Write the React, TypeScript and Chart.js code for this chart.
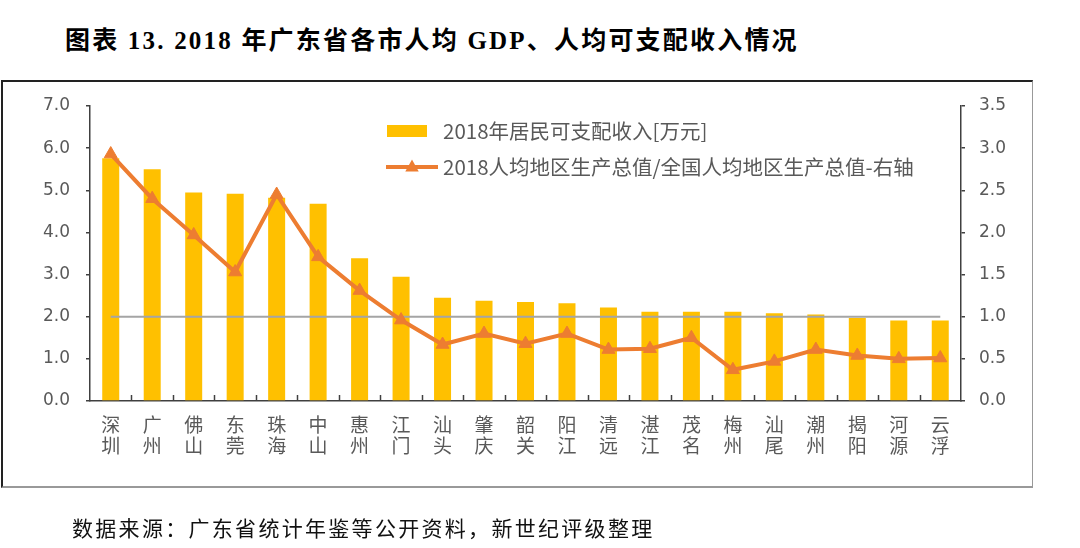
import React, { useEffect, useRef } from "react";
import { Chart, registerables } from "chart.js";

Chart.register(...registerables);

const cities = ["深圳","广州","佛山","东莞","珠海","中山","惠州","江门","汕头","肇庆","韶关","阳江","清远","湛江","茂名","梅州","汕尾","潮州","揭阳","河源","云浮"];
const income = [5.76, 5.50, 4.95, 4.92, 4.82, 4.68, 3.39, 2.95, 2.45, 2.38, 2.35, 2.32, 2.22, 2.12, 2.12, 2.12, 2.08, 2.05, 1.97, 1.91, 1.91];
const gdpRatio = [2.93, 2.40, 1.97, 1.53, 2.45, 1.71, 1.31, 0.96, 0.67, 0.80, 0.68, 0.80, 0.61, 0.62, 0.75, 0.37, 0.47, 0.61, 0.54, 0.50, 0.51];
const nationalLevel = [1, 1, 1, 1, 1, 1, 1, 1, 1, 1, 1, 1, 1, 1, 1, 1, 1, 1, 1, 1, 1];
const incomeLabel = "2018年居民可支配收入[万元]";
const gdpLabel = "2018人均地区生产总值/全国人均地区生产总值-右轴";
const titleText = "图表 13. 2018 年广东省各市人均 GDP、人均可支配收入情况";
const sourceText = "数据来源：广东省统计年鉴等公开资料，新世纪评级整理";

const BAR = "#FFC000";
const LINE = "#ED7D31";
const GRAY = "#A5A5A5";
const AXIS = "#404040";
const TXT = "#595959";

const innerTicks = {
  id: "innerTicks",
  afterDatasetsDraw(chart: any) {
    const x = chart.scales.x;
    const ctx = chart.ctx;
    const bottom = chart.chartArea.bottom;
    ctx.save();
    ctx.strokeStyle = AXIS;
    ctx.lineWidth = 1.5;
    for (let i = 1; i < cities.length; i++) {
      const px = Math.round((x.getPixelForValue(i - 1) + x.getPixelForValue(i)) / 2) + 0.5;
      ctx.beginPath();
      ctx.moveTo(px, bottom);
      ctx.lineTo(px, bottom - 6);
      ctx.stroke();
    }
    ctx.restore();
  },
};

const customLegend = {
  id: "customLegend",
  afterDraw(chart: any) {
    const ctx = chart.ctx;
    const ds = chart.data.datasets;
    ctx.save();
    ctx.font = "20.5px 'Noto Sans CJK SC', 'DejaVu Sans', sans-serif";
    ctx.textBaseline = "middle";
    ctx.textAlign = "left";
    ctx.fillStyle = BAR;
    ctx.fillRect(387, 125, 40, 12);
    ctx.fillStyle = TXT;
    ctx.fillText(ds[0].label, 443, 131);
    ctx.strokeStyle = LINE;
    ctx.lineWidth = 4;
    ctx.beginPath();
    ctx.moveTo(386, 167);
    ctx.lineTo(438, 167);
    ctx.stroke();
    ctx.fillStyle = LINE;
    ctx.beginPath();
    const r = 7.5;
    ctx.moveTo(412, 167 - r);
    ctx.lineTo(412 + r * 0.9, 167 + r * 0.6);
    ctx.lineTo(412 - r * 0.9, 167 + r * 0.6);
    ctx.closePath();
    ctx.fill();
    ctx.fillStyle = TXT;
    ctx.fillText(ds[1].label, 443, 167);
    ctx.restore();
  },
};

export default function App() {
  const ref = useRef<HTMLCanvasElement>(null);
  useEffect(() => {
    const chart = new Chart(ref.current as HTMLCanvasElement, {
      type: "bar",
      data: {
        labels: cities.map((c) => [c[0], c[1]]),
        datasets: [
          {
            type: "bar",
            label: incomeLabel,
            data: income,
            backgroundColor: BAR,
            yAxisID: "y",
            barPercentage: 0.41,
            categoryPercentage: 1,
            order: 3,
          } as any,
          {
            type: "line",
            label: gdpLabel,
            data: gdpRatio,
            borderColor: LINE,
            backgroundColor: LINE,
            borderWidth: 4,
            pointStyle: "triangle",
            pointRadius: 7.5,
            pointBorderWidth: 1,
            yAxisID: "y1",
            tension: 0,
            order: 1,
          } as any,
          {
            type: "line",
            label: "national",
            data: nationalLevel,
            borderColor: GRAY,
            borderWidth: 2,
            pointRadius: 0,
            yAxisID: "y1",
            order: 2,
          } as any,
        ],
      },
      options: {
        animation: false,
        responsive: false,
        layout: { padding: { top: 106, left: 0, right: 0, bottom: 0 } },
        plugins: { legend: { display: false }, tooltip: { enabled: false } },
        scales: {
          x: {
            offset: true,
            grid: { display: true, drawOnChartArea: false, drawTicks: false },
            border: { color: AXIS, width: 1.5 },
            ticks: {
              color: TXT,
              padding: 13,
              maxRotation: 0,
              autoSkip: false,
              font: { family: "'Noto Sans CJK SC', sans-serif", size: 19, lineHeight: 1.12 },
            },
            afterFit(s: any) { s.height = 147; },
          },
          y: {
            position: "left",
            min: 0,
            max: 7,
            grid: { drawOnChartArea: false, tickLength: 4, color: AXIS, lineWidth: 1.5 },
            border: { color: AXIS, width: 1.5 },
            ticks: {
              stepSize: 1,
              color: TXT,
              padding: 16,
              font: { family: "'DejaVu Sans', sans-serif", size: 17 },
              callback: (v: any) => Number(v).toFixed(1),
            },
            afterFit(s: any) { s.width = 90; },
          },
          y1: {
            position: "right",
            min: 0,
            max: 3.5,
            grid: { drawOnChartArea: false, tickLength: 4, color: AXIS, lineWidth: 1.5 },
            border: { color: AXIS, width: 1.5 },
            ticks: {
              stepSize: 0.5,
              color: TXT,
              padding: 14,
              font: { family: "'DejaVu Sans', sans-serif", size: 17 },
              callback: (v: any) => Number(v).toFixed(1),
            },
            afterFit(s: any) { s.width = 119; },
          },
        },
      },
      plugins: [innerTicks, customLegend],
    });
    return () => chart.destroy();
  }, []);

  return (
    <div style={{ position: "absolute", left: 0, top: 0, width: 1080, height: 548, background: "#fff", overflow: "hidden" }}>
      <div
        style={{
          position: "absolute",
          left: 65,
          top: 26,
          fontFamily: "'Liberation Serif', 'Noto Sans CJK SC', serif",
          fontWeight: "bold",
          fontSize: 25,
          letterSpacing: 2.2,
          lineHeight: "30px",
          color: "#000",
          whiteSpace: "nowrap",
        }}
      >
        {titleText}
      </div>
      <div
        style={{
          position: "absolute",
          left: 1,
          top: 80,
          width: 1029,
          height: 404,
          borderTop: "2px solid #222",
          borderLeft: "2px solid #222",
          borderRight: "1.5px solid #999",
          borderBottom: "2px solid #999",
        }}
      />
      <canvas ref={ref} width={1080} height={548} style={{ position: "absolute", left: 0, top: 0 }} />
      <div
        style={{
          position: "absolute",
          left: 72,
          top: 513,
          fontFamily: "'Noto Sans CJK SC', sans-serif",
          fontSize: 21,
          letterSpacing: 2.3,
          lineHeight: "28px",
          color: "#111",
          whiteSpace: "nowrap",
        }}
      >
        {sourceText}
      </div>
    </div>
  );
}
